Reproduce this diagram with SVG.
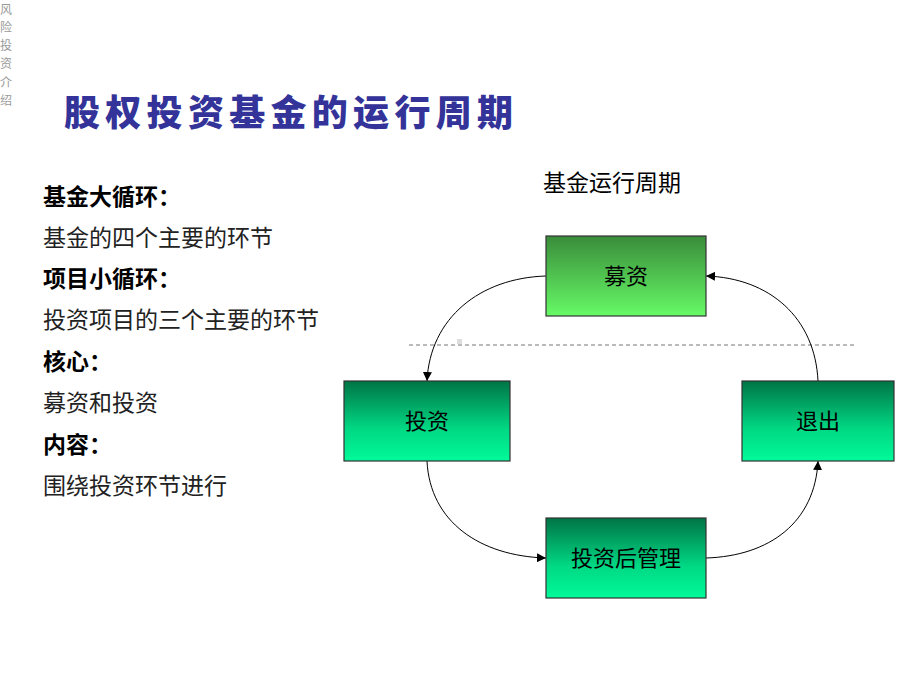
<svg xmlns="http://www.w3.org/2000/svg" width="920" height="690" viewBox="0 0 920 690">
<style>
.cjk{font-family:"Noto Sans CJK SC","Noto Sans CJK TC",sans-serif;}
.side{font-size:12px;fill:#9a9a9a;}
.title{font-size:36px;font-weight:900;fill:#333399;}
.hd{font-size:23px;font-weight:bold;fill:#000;}
.bd{font-size:23px;fill:#222;}
.lbl{font-size:22px;fill:#000;text-anchor:middle;}
.box{stroke:#333;stroke-width:1.2;}
.conn{fill:none;stroke:#000;stroke-width:1;}
</style>
<defs>
<linearGradient id="gLight" x1="0" y1="0" x2="0" y2="1">
<stop offset="0" stop-color="#3a8c3a"/>
<stop offset="1" stop-color="#66fa66"/>
</linearGradient>
<linearGradient id="gTeal" x1="0" y1="0" x2="0" y2="1">
<stop offset="0" stop-color="#007445"/>
<stop offset="0.6" stop-color="#00d884"/>
<stop offset="1" stop-color="#00fa99"/>
</linearGradient>
<marker id="arr" viewBox="0 0 10 10" refX="10" refY="5" markerWidth="9" markerHeight="9" markerUnits="userSpaceOnUse" orient="auto">
<path d="M0,0 L10,5 L0,10 z" fill="#000"/>
</marker>
</defs>
<rect width="920" height="690" fill="#fff"/>
<g id="side-label" class="cjk side">
<text x="0" y="14">风</text>
<text x="0" y="32">险</text>
<text x="0" y="50">投</text>
<text x="0" y="68">资</text>
<text x="0" y="87">介</text>
<text x="0" y="105">绍</text>
</g>
<g id="title"><text class="cjk title" x="64" y="126" textLength="449" lengthAdjust="spacing">股权投资基金的运行周期</text></g>
<g id="notes" class="cjk">
<text class="hd" x="43" y="205">基金大循环：</text>
<text class="bd" x="43" y="246">基金的四个主要的环节</text>
<text class="hd" x="43" y="287">项目小循环：</text>
<text class="bd" x="43" y="328">投资项目的三个主要的环节</text>
<text class="hd" x="43" y="370">核心：</text>
<text class="bd" x="43" y="411">募资和投资</text>
<text class="hd" x="43" y="453">内容：</text>
<text class="bd" x="43" y="494">围绕投资环节进行</text>
</g>
<g id="cycle-title"><text class="cjk" x="612" y="191" font-size="23" fill="#000" text-anchor="middle">基金运行周期</text></g>
<g id="divider">
<line x1="409" y1="345" x2="856" y2="345" stroke="#777" stroke-width="1.2" stroke-dasharray="4,3"/>
<rect x="457" y="339" width="5" height="5" fill="#ddd"/>
</g>
<g id="connectors">
<path class="conn" d="M546,276 C480,278 430,318 427,381" marker-end="url(#arr)"/>
<path class="conn" d="M427,461 C430,522 480,556 546,558" marker-end="url(#arr)"/>
<path class="conn" d="M706,558 C770,556 815,522 818,461" marker-end="url(#arr)"/>
<path class="conn" d="M818,381 C815,318 770,278 706,276" marker-end="url(#arr)"/>
</g>
<g id="node-fundraising">
<rect class="box" x="546" y="236" width="160" height="80" fill="url(#gLight)"/>
<text class="cjk lbl" x="626" y="284">募资</text>
</g>
<g id="node-invest">
<rect class="box" x="344" y="381" width="166" height="80" fill="url(#gTeal)"/>
<text class="cjk lbl" x="427" y="429">投资</text>
</g>
<g id="node-exit">
<rect class="box" x="742" y="381" width="152" height="80" fill="url(#gTeal)"/>
<text class="cjk lbl" x="818" y="429">退出</text>
</g>
<g id="node-postinvest">
<rect class="box" x="546" y="518" width="160" height="80" fill="url(#gTeal)"/>
<text class="cjk lbl" x="626" y="566">投资后管理</text>
</g>
</svg>
